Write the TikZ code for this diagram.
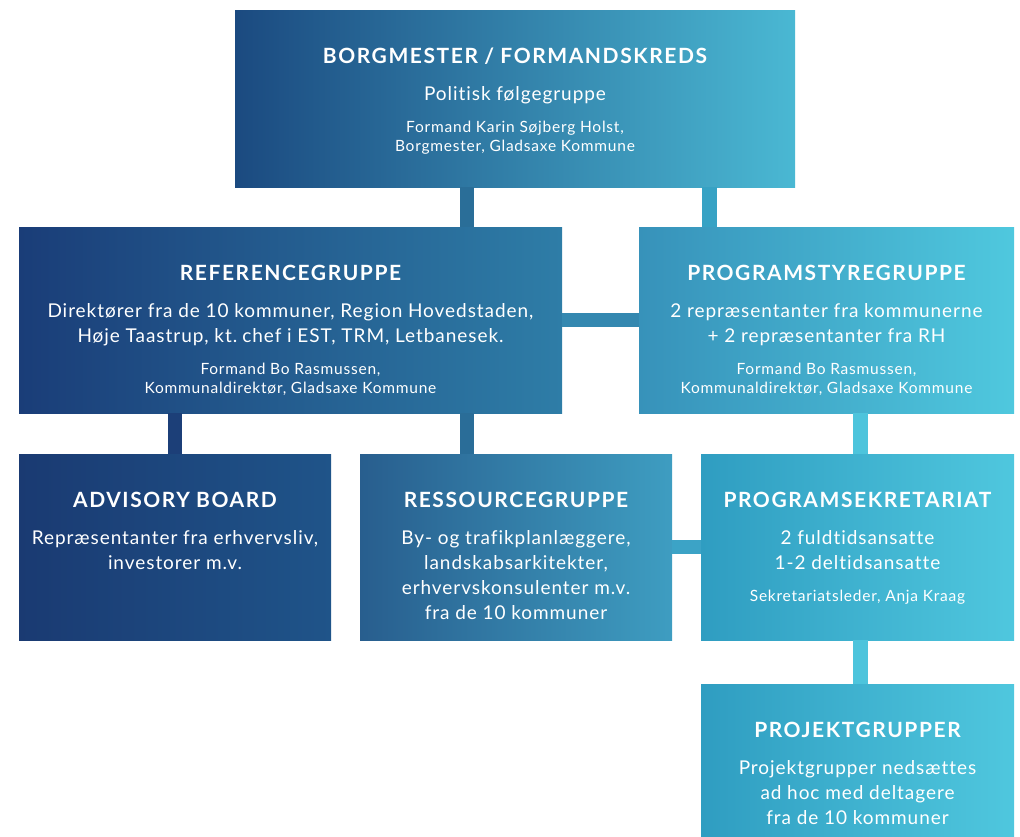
\documentclass[tikz,border=0pt]{standalone}
\usepackage{fontspec}
\setmainfont{Lato}[LetterSpace=5, Ligatures=NoCommon]
\newfontfamily\titlefont{Lato}[LetterSpace=7.5]
\usepackage{tikz}
\usetikzlibrary{positioning}
\setlength{\parindent}{0pt}
\definecolor{topL}{HTML}{1B4A80}
\definecolor{topM}{HTML}{2774A0}
\definecolor{topR}{HTML}{4AB8D3}
\definecolor{refL}{HTML}{1A3D78}
\definecolor{refR}{HTML}{2E7DA7}
\definecolor{prgL}{HTML}{3792BA}
\definecolor{prgR}{HTML}{4FC8DE}
\definecolor{advL}{HTML}{1A3A72}
\definecolor{advR}{HTML}{1F5489}
\definecolor{resL}{HTML}{285E8E}
\definecolor{resR}{HTML}{3E9DC1}
\definecolor{sekL}{HTML}{2F9DC1}
\definecolor{sekR}{HTML}{4FC7DE}
\newcommand{\ttl}[1]{{\titlefont\fontsize{21}{24}\selectfont\bfseries\spaceskip=0.3em\rule{0pt}{17pt}#1\par}}
\newcommand{\bodytxt}[1]{{\fontsize{19}{25}\selectfont\spaceskip=0.3em\vspace{12.5pt}#1\par}}
\newcommand{\notetxt}[1]{{\fontsize{15.5}{19}\selectfont\spaceskip=0.3em\vspace{13pt}#1\par}}
\tikzset{
orgbox/.style={inner sep=0pt, outer sep=0pt, minimum height=186pt}, % the coloured boxes
boxtext/.style={text=white, align=center, inner sep=0pt}, % text set in a box
bar/.style={line width=14.5pt}, % the thick connectors
}

\begin{document}
\begin{tikzpicture}[x=1pt, y=-1pt]
\useasboundingbox (0,0) rectangle (1020,836);
\node[orgbox, minimum width=560pt, minimum height=177pt, left color=topL, middle color=topM, right color=topR] (top) at (515,98.5) {};
\node[orgbox, minimum width=543pt, left color=refL, right color=refR] (ref) at (290.5,320) {};
\node[orgbox, minimum width=375pt, left color=prgL, right color=prgR] (prg) at (826.5,320) {};
\node[orgbox, minimum width=312pt, left color=advL, right color=advR] (adv) at (175,547) {};
\node[orgbox, minimum width=312pt, left color=resL, right color=resR] (res) at (516,547) {};
\node[orgbox, minimum width=313pt, left color=sekL, right color=sekR] (sek) at (857.5,547) {};
\node[orgbox, minimum width=313pt, minimum height=152pt, left color=sekL, right color=sekR] (proj) at (857.5,760) {};

\node[boxtext, text width=540pt, below=36pt of top.north] (toptext) {\ttl{BORGMESTER / FORMANDSKREDS}\bodytxt{Politisk følgegruppe}\notetxt{Formand Karin Søjberg Holst,\\Borgmester, Gladsaxe Kommune}};
\node[boxtext, text width=538pt, below=36pt of ref.north] (reftext) {\ttl{REFERENCEGRUPPE}\bodytxt{Direktører fra de 10 kommuner, Region Hovedstaden,\\Høje Taastrup, kt. chef i EST, TRM, Letbanesek.}\notetxt{Formand Bo Rasmussen,\\Kommunaldirektør, Gladsaxe Kommune}};
\node[boxtext, text width=370pt, below=36pt of prg.north] (prgtext) {\ttl{PROGRAMSTYREGRUPPE}\bodytxt{2 repræsentanter fra kommunerne\\+ 2 repræsentanter fra RH}\notetxt{Formand Bo Rasmussen,\\Kommunaldirektør, Gladsaxe Kommune}};
\node[boxtext, text width=308pt, below=36pt of adv.north] (advtext) {\ttl{ADVISORY BOARD}\bodytxt{Repræsentanter fra erhvervsliv,\\investorer m.v.}};
\node[boxtext, text width=308pt, below=36pt of res.north] (restext) {\ttl{RESSOURCEGRUPPE}\bodytxt{By- og trafikplanlæggere,\\landskabsarkitekter,\\erhvervskonsulenter m.v.\\fra de 10 kommuner}};
\node[boxtext, text width=309pt, below=36pt of sek.north] (sektext) {\ttl{PROGRAMSEKRETARIAT}\bodytxt{2 fuldtidsansatte\\1-2 deltidsansatte}\notetxt{Sekretariatsleder, Anja Kraag}};
\node[boxtext, text width=309pt, below=36pt of proj.north] (projtext) {\ttl{PROJEKTGRUPPER}\bodytxt{Projektgrupper nedsættes\\ad hoc med deltagere\\fra de 10 kommuner}};

% connectors
\draw[bar, color={rgb,255:red,42;green,110;blue,152}] ([xshift=-48pt]top.south) -- ([xshift=-48pt]top.south |- ref.north);
\draw[bar, color={rgb,255:red,55;green,162;blue,196}] ([xshift=194.5pt]top.south) -- ([xshift=194.5pt]top.south |- prg.north);
\draw[bar, color={rgb,255:red,52;green,136;blue,176}] (ref.east) -- (prg.west);
\draw[bar, color={rgb,255:red,28;green,63;blue,120}] (adv.north |- ref.south) -- (adv.north);
\draw[bar, color={rgb,255:red,42;green,109;blue,152}] ([xshift=-49pt]res.north |- ref.south) -- ([xshift=-49pt]res.north);
\draw[bar, color={rgb,255:red,60;green,163;blue,198}] (res.east) -- (sek.west);
\draw[bar, color={rgb,255:red,77;green,196;blue,220}] ([xshift=3pt]sek.north |- prg.south) -- ([xshift=3pt]sek.north);
\draw[bar, color={rgb,255:red,77;green,196;blue,220}] ([xshift=3pt]sek.south) -- ([xshift=3pt]proj.north);
\end{tikzpicture}
\end{document}
